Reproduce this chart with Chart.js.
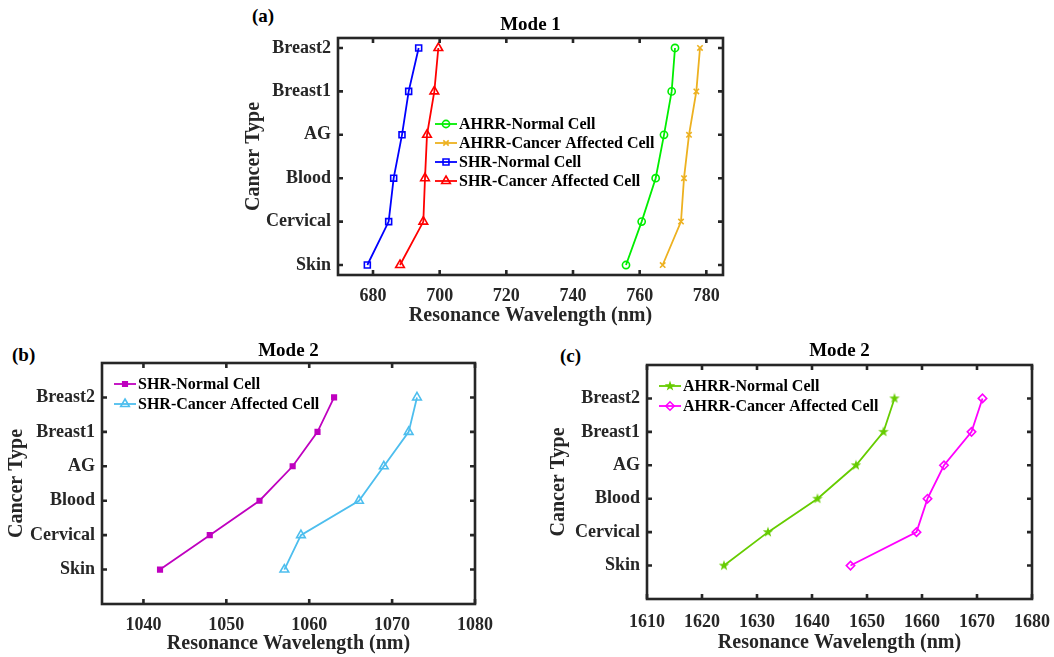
<!DOCTYPE html>
<html>
<head>
<meta charset="utf-8">
<title>Resonance wavelength vs cancer type</title>
<script src="https://cdn.jsdelivr.net/npm/chart.js@4.4.0/dist/chart.umd.min.js"></script>
<style>
    body { margin: 0; background: #fff; width: 1054px; height: 657px; position: relative; overflow: hidden; }
    canvas { position: absolute; }
    .lbl { position: absolute; font: bold 19px "Liberation Serif"; color: #000; line-height: 22px; }
</style>
</head>
<body>
<div class="lbl" style="left:252px;top:5px">(a)</div>
<div class="lbl" style="left:12px;top:344px">(b)</div>
<div class="lbl" style="left:560px;top:345px">(c)</div>
<canvas id="chartA" width="510" height="330" style="left:230px;top:0"></canvas>
<canvas id="chartB" width="500" height="327" style="left:0;top:330px"></canvas>
<canvas id="chartC" width="514" height="327" style="left:540px;top:330px"></canvas>
<script>
var cancerTypes = ['Skin', 'Cervical', 'Blood', 'AG', 'Breast1', 'Breast2'];

// Mode 1
var ahrrNormal1 = [755.9, 760.6, 764.8, 767.3, 769.6, 770.6];
var ahrrCancer1 = [766.9, 772.4, 773.3, 774.8, 777.0, 778.1];
var shrNormal1 = [678.3, 684.7, 686.2, 688.7, 690.7, 693.7];
var shrCancer1 = [688.1, 695.1, 695.6, 696.2, 698.4, 699.6];
var ticksMode1 = [680, 700, 720, 740, 760, 780];

// Mode 2 - SHR
var shrNormal2 = [1042, 1048, 1054, 1058, 1061, 1063];
var shrCancer2 = [1057, 1059, 1066, 1069, 1072, 1073];
var ticksShr2 = [1040, 1050, 1060, 1070, 1080];

// Mode 2 - AHRR
var ahrrNormal2 = [1624, 1632, 1641, 1648, 1653, 1655];
var ahrrCancer2 = [1647, 1659, 1661, 1664, 1669, 1671];
var ticksAhrr2 = [1610, 1620, 1630, 1640, 1650, 1660, 1670, 1680];

Chart.defaults.font.family = '"Liberation Serif", "Times New Roman", serif';

var axisColor = '#262626';

function toPoints(vals) {
    return vals.map(function (v, i) { return { x: v, y: i }; });
}

// matlab pentagram marker
function makeStar(color, size) {
    var c = document.createElement('canvas');
    c.width = size; c.height = size;
    var g = c.getContext('2d');
    var cx = size / 2, cy = size / 2, ro = size / 2 - 0.5, ri = ro * 0.4;
    g.beginPath();
    for (let i = 0; i < 10; i++) {
        var r = i % 2 == 0 ? ro : ri;
        var a = -Math.PI / 2 + i * Math.PI / 5;
        g.lineTo(cx + r * Math.cos(a), cy + r * Math.sin(a));
    }
    g.closePath();
    g.fillStyle = color;
    g.fill();
    return c;
}

function serie(label, vals, color, style, radius, filled) {
    return {
        label: label,
        data: toPoints(vals),
        borderColor: color,
        backgroundColor: color,
        borderWidth: 1.8,
        tension: 0,
        pointStyle: style,
        pointRadius: radius,
        pointBorderWidth: 1.6,
        pointBorderColor: color,
        pointBackgroundColor: filled ? color : 'rgba(0,0,0,0)'
    };
}

// box, inward ticks, panel title and legend like the matlab figure
var matlabBox = {
    id: 'matlabBox',
    afterDraw: function (chart, args, o) {
        var ctx = chart.ctx;
        var a = chart.chartArea;
        var x = chart.scales.x, y = chart.scales.y;
        ctx.save();
        ctx.strokeStyle = axisColor;
        ctx.lineWidth = 2.6;
        ctx.strokeRect(a.left, a.top, a.right - a.left, a.bottom - a.top);
        ctx.lineWidth = 2.6;
        ctx.beginPath();
        x.ticks.forEach(function (t) {
            var px = x.getPixelForValue(t.value);
            ctx.moveTo(px, a.bottom); ctx.lineTo(px, a.bottom - 5);
            ctx.moveTo(px, a.top); ctx.lineTo(px, a.top + 5);
        });
        y.ticks.forEach(function (t) {
            var py = y.getPixelForValue(t.value);
            ctx.moveTo(a.left, py); ctx.lineTo(a.left + 5, py);
            ctx.moveTo(a.right, py); ctx.lineTo(a.right - 5, py);
        });
        ctx.stroke();

        // title
        ctx.fillStyle = '#000';
        ctx.font = 'bold 19px "Liberation Serif"';
        ctx.textAlign = 'center';
        ctx.textBaseline = 'middle';
        ctx.fillText(o.title, (a.left + a.right) / 2, o.titleY);

        // legend
        ctx.font = 'bold 16px "Liberation Serif"';
        ctx.textAlign = 'left';
        chart.data.datasets.forEach(function (ds, i) {
            var ly = o.legendY + i * o.rowH;
            ctx.strokeStyle = ds.borderColor;
            ctx.lineWidth = ds.borderWidth;
            ctx.beginPath();
            ctx.moveTo(o.legendX, ly);
            ctx.lineTo(o.legendX + 22, ly);
            ctx.stroke();
            ctx.fillStyle = ds.pointBackgroundColor;
            ctx.strokeStyle = ds.pointBorderColor;
            ctx.lineWidth = ds.pointBorderWidth;
            Chart.helpers.drawPoint(ctx, {
                pointStyle: ds.pointStyle, rotation: 0,
                radius: ds.pointRadius, borderWidth: ds.pointBorderWidth
            }, o.legendX + 11, ly);
            ctx.fillStyle = '#000';
            ctx.fillText(ds.label, o.legendX + 24, ly + 1);
        });
        ctx.restore();
    }
};

function makeChart(id, datasets, p) {
    return new Chart(document.getElementById(id), {
        type: 'line',
        data: { datasets: datasets },
        plugins: [matlabBox],
        options: {
            responsive: false,
            animation: false,
            layout: { padding: { top: p.top, right: p.right, left: 0, bottom: 0 } },
            plugins: {
                legend: { display: false },
                tooltip: { enabled: false },
                matlabBox: { title: p.title, titleY: p.titleY, legendX: p.legendX, legendY: p.legendY, rowH: p.rowH }
            },
            scales: {
                x: {
                    type: 'linear',
                    min: p.xMin,
                    max: p.xMax,
                    afterBuildTicks: function (s) { s.ticks = p.xTicks.map(function (v) { return { value: v }; }); },
                    afterFit: function (s) { s.height = p.xH; },
                    grid: { display: false, drawTicks: false },
                    border: { display: false },
                    ticks: {
                        color: axisColor, font: { size: 18, weight: 'bold', lineHeight: p.xTickLH + 'px' }, padding: 4,
                        maxRotation: 0, autoSkip: false,
                        callback: function (v) { return String(v); }
                    },
                    title: {
                        display: true, text: 'Resonance Wavelength (nm)', color: axisColor,
                        font: { size: 20, weight: 'bold' }, padding: { top: 0, bottom: p.xTitlePad }
                    }
                },
                y: {
                    type: 'linear',
                    min: p.yMin,
                    max: p.yMax,
                    afterBuildTicks: function (s) { s.ticks = cancerTypes.map(function (c, i) { return { value: i }; }); },
                    afterFit: function (s) { s.width = p.yW; },
                    grid: { display: false, drawTicks: false },
                    border: { display: false },
                    ticks: {
                        color: axisColor, font: { size: 18, weight: 'bold' }, padding: 7, autoSkip: false,
                        callback: function (v) { return cancerTypes[v]; }
                    },
                    title: {
                        display: true, text: 'Cancer Type', color: axisColor,
                        font: { size: 20, weight: 'bold' }, padding: { top: p.yTitlePad, bottom: 0 }
                    }
                }
            }
        }
    });
}

makeChart('chartA', [
    serie('AHRR-Normal Cell', ahrrNormal1, '#00EE00', 'circle', 3.6, false),
    serie('AHRR-Cancer Affected Cell', ahrrCancer1, '#EDB120', 'crossRot', 3.8, false),
    serie('SHR-Normal Cell', shrNormal1, '#0000FF', 'rect', 4.2, false),
    serie('SHR-Cancer Affected Cell', shrCancer1, '#FF0000', 'triangle', 5, false)
], {
    top: 38, right: 17, xH: 55, yW: 108, xTitlePad: 2, yTitlePad: 12, xTickLH: 35,
    xMin: 669.5, xMax: 785, xTicks: ticksMode1, yMin: -0.23, yMax: 5.23,
    title: 'Mode 1', titleY: 25, legendX: 205, legendY: 124, rowH: 19
});

makeChart('chartB', [
    serie('SHR-Normal Cell', shrNormal2, '#BF00BF', 'rect', 3.2, true),
    serie('SHR-Cancer Affected Cell', shrCancer2, '#4DBEEE', 'triangle', 5, false)
], {
    top: 33, right: 25, xH: 53, yW: 102, xTitlePad: 1, yTitlePad: 5, xTickLH: 35,
    xMin: 1035, xMax: 1080, xTicks: ticksShr2, yMin: -1, yMax: 6,
    title: 'Mode 2', titleY: 21, legendX: 114, legendY: 54, rowH: 20
});

var greenStar = makeStar('#66CC00', 12);
makeChart('chartC', [
    serie('AHRR-Normal Cell', ahrrNormal2, '#66CC00', greenStar, 6, true),
    serie('AHRR-Cancer Affected Cell', ahrrCancer2, '#FF00FF', 'rectRot', 4.2, false)
], {
    top: 35, right: 22, xH: 58, yW: 107, xTitlePad: 2, yTitlePad: 7, xTickLH: 39,
    xMin: 1610, xMax: 1680, xTicks: ticksAhrr2, yMin: -1, yMax: 6,
    title: 'Mode 2', titleY: 21, legendX: 119, legendY: 56, rowH: 20
});
</script>
</body>
</html>
